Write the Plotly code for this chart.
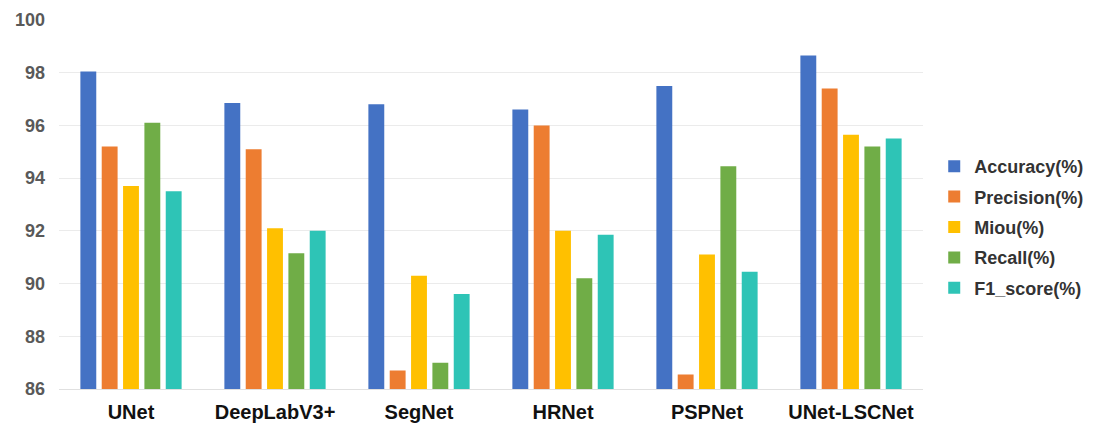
import plotly.graph_objects as go

models = ["UNet", "DeepLabV3+", "SegNet", "HRNet", "PSPNet", "UNet-LSCNet"]
accuracy = [98.05, 96.85, 96.8, 96.6, 97.5, 98.65]
precision = [95.2, 95.1, 86.7, 96.0, 86.55, 97.4]
miou = [93.7, 92.1, 90.3, 92.0, 91.1, 95.65]
recall = [96.1, 91.15, 87.0, 90.2, 94.45, 95.2]
f1_score = [93.5, 92.0, 89.6, 91.85, 90.45, 95.5]
series_names = ["Accuracy(%)", "Precision(%)", "Miou(%)", "Recall(%)", "F1_score(%)"]
colors = ["#4472C4", "#ED7D31", "#FFC000", "#70AD47", "#2EC4B6"]

fig = go.Figure()
for name, vals, c in zip(series_names, [accuracy, precision, miou, recall, f1_score], colors):
    fig.add_trace(go.Bar(x=models, y=vals, name=name, marker_color=c,
                         marker_line_width=0, legendgroup=name))

fig.update_layout(
    width=1093, height=423,
    margin=dict(l=51, r=172, t=12, b=42),
    paper_bgcolor="white", plot_bgcolor="white",
    barmode="group", bargap=0.259, bargroupgap=0.256,
    font=dict(family="Liberation Sans, Arial, sans-serif", color="#333333"),
    legend=dict(x=1.013, y=0.439, yanchor="middle", xanchor="left",
                tracegroupgap=4,
                font=dict(size=18, color="#333333", family="Liberation Sans, Arial, sans-serif", weight="bold")),
    yaxis=dict(range=[86, 100], dtick=2, showgrid=True, gridcolor="#EBEBEB", gridwidth=1,
               zeroline=False, showline=False, automargin=False,
               tickfont=dict(size=18, color="#595959", weight="bold"), ticks="", ticklabelstandoff=13),
    xaxis=dict(showline=True, linecolor="#E0E0E0", linewidth=1, ticks="", automargin=False,
               tickfont=dict(size=20, color="#111111", weight="bold"), ticklabelstandoff=5),
)

fig.write_html("out.html")
